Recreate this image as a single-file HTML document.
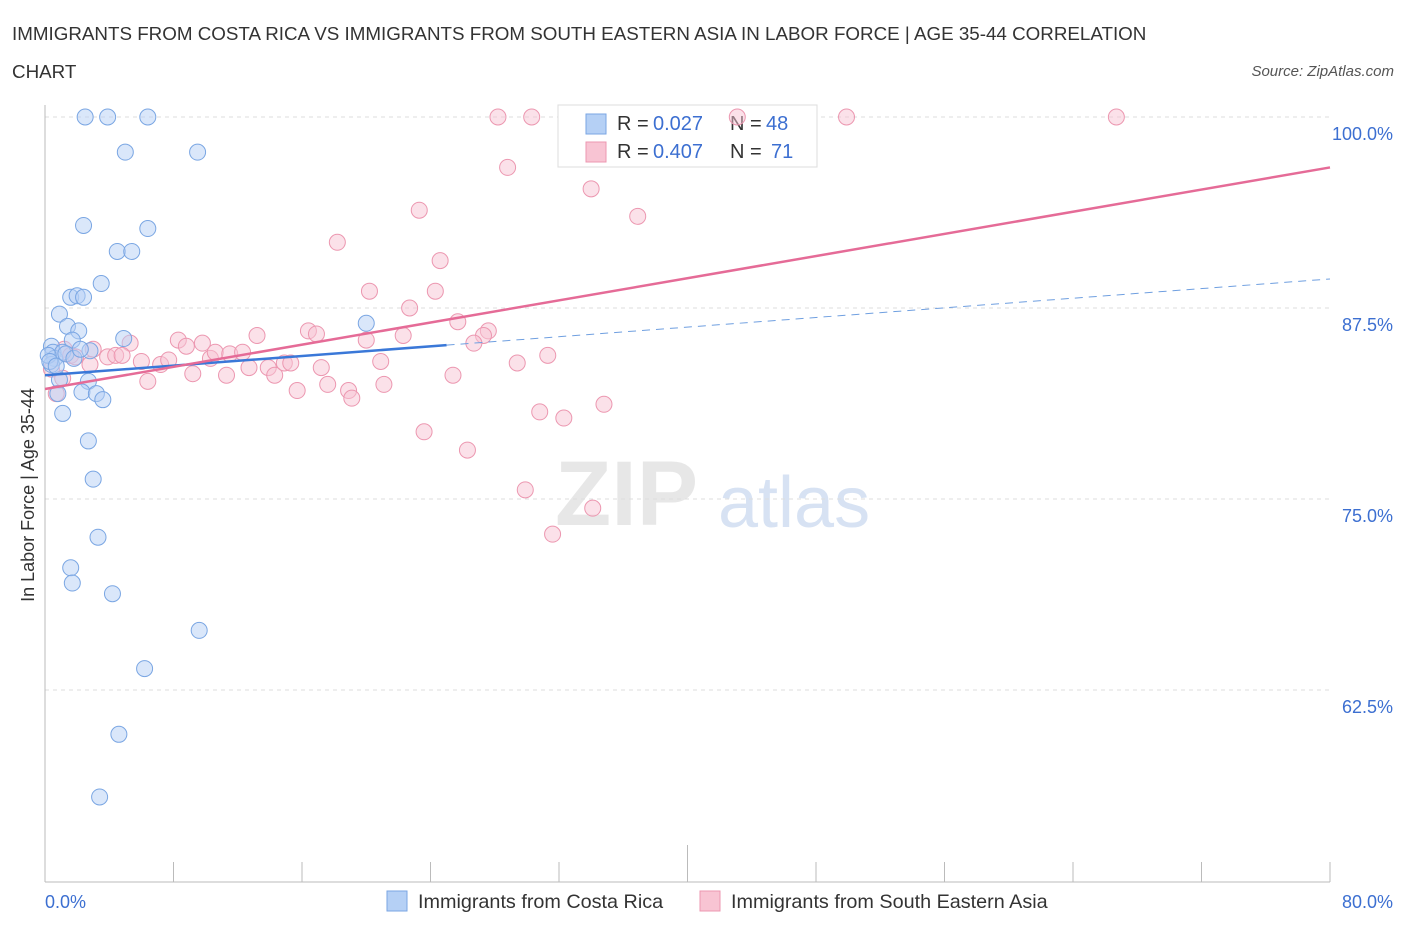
<!DOCTYPE html>
<html><head><meta charset="utf-8"><style>
body{margin:0;background:#fff;font-family:"Liberation Sans",sans-serif;}
svg text{font-family:"Liberation Sans",sans-serif;}
</style></head><body>
<svg id="chart" width="1406" height="930" xmlns="http://www.w3.org/2000/svg">
<text x="12" y="40" font-size="18.8" fill="#333">IMMIGRANTS FROM COSTA RICA VS IMMIGRANTS FROM SOUTH EASTERN ASIA IN LABOR FORCE | AGE 35-44 CORRELATION</text>
<text x="12" y="78" font-size="18.8" fill="#333">CHART</text>
<text x="1394" y="76" font-size="15" fill="#555" font-style="italic" text-anchor="end">Source: ZipAtlas.com</text>
<g>
<text x="555" y="525" font-size="92" fill="#ddd" font-family="Liberation Serif,serif" font-weight="bold" opacity="0.7">ZIP</text>
<text x="718" y="527" font-size="72" fill="#c7d7ee" opacity="0.7">atlas</text>
</g>
<g id="grid"></g>
<g id="axes"></g>
<g id="legend-top">
<rect x="558" y="105" width="259" height="62" fill="#fff" stroke="#ddd"/>
<rect x="586" y="114" width="20" height="20" fill="#b5d0f5" stroke="#7aa6e3"/>
<text x="617" y="130" font-size="20" fill="#333">R = </text><text x="653" y="130" font-size="20" fill="#3c6fd1">0.027</text>
<text x="730" y="130" font-size="20" fill="#333">N = </text><text x="766" y="130" font-size="20" fill="#3c6fd1">48</text>
<rect x="586" y="142" width="20" height="20" fill="#f8c4d3" stroke="#ec97b0"/>
<text x="617" y="158" font-size="20" fill="#333">R = </text><text x="653" y="158" font-size="20" fill="#3c6fd1">0.407</text>
<text x="730" y="158" font-size="20" fill="#333">N = </text><text x="771" y="158" font-size="20" fill="#3c6fd1">71</text>
</g>
<g id="marks"></g>
<g>
<rect x="387" y="891" width="20" height="20" fill="#b5d0f5" stroke="#7aa6e3"/>
<text x="418" y="908" font-size="19.8" fill="#333">Immigrants from Costa Rica</text>
<rect x="700" y="891" width="20" height="20" fill="#f8c4d3" stroke="#ec97b0"/>
<text x="731" y="908" font-size="19.8" fill="#333">Immigrants from South Eastern Asia</text>
</g>
<text transform="translate(34,495) rotate(-90)" font-size="18" fill="#333" text-anchor="middle">In Labor Force | Age 35-44</text>
</svg>
<script>
const yTicks=[100,87.5,75,62.5];
const yTickLabels=["100.0%","87.5%","75.0%","62.5%"];
const xTickLabels=["0.0%","80.0%"];
const blueX=[2.5,3.9,6.4,5.0,9.5,2.4,6.4,4.5,5.4,3.5,1.6,2.0,2.4,0.9,1.4,2.1,4.9,1.7,0.4,0.5,0.6,0.4,1.1,2.8,20.0,0.9,2.7,2.3,3.2,3.6,0.8,1.1,2.7,3.0,3.3,1.6,1.7,4.2,9.6,6.2,4.6,3.4,0.2,0.3,0.7,1.3,1.8,2.2];
const blueY=[100,100,100,97.7,97.7,92.9,92.7,91.2,91.2,89.1,88.2,88.3,88.2,87.1,86.3,86.0,85.5,85.4,85.0,84.6,84.2,83.8,84.6,84.7,86.5,82.8,82.7,82.0,81.9,81.5,81.9,80.6,78.8,76.3,72.5,70.5,69.5,68.8,66.4,63.9,59.6,55.5,84.4,84.0,83.7,84.5,84.2,84.8];
const pinkX=[28.2,30.3,43.1,49.9,66.7,28.8,34.0,23.3,36.9,18.2,24.6,20.2,24.3,22.7,25.7,27.6,27.3,16.4,16.9,13.2,20.0,22.3,26.7,8.3,9.8,8.8,5.3,3.0,1.2,1.6,3.9,4.4,4.8,6.0,7.2,7.7,10.3,10.6,11.5,12.3,12.7,13.9,14.3,14.9,15.3,17.2,20.9,29.4,31.3,9.2,11.3,6.4,1.1,17.6,18.9,19.1,21.1,15.7,25.4,30.8,32.3,34.8,23.6,26.3,29.9,34.1,31.6,0.7,1.9,0.4,2.8];
const pinkY=[100,100,100,100,100,96.7,95.3,93.9,93.5,91.8,90.6,88.6,88.6,87.5,86.6,86.0,85.7,86.0,85.8,85.7,85.4,85.7,85.2,85.4,85.2,85.0,85.2,84.8,84.8,84.4,84.3,84.4,84.4,84.0,83.8,84.1,84.2,84.6,84.5,84.6,83.6,83.6,83.1,83.9,83.9,83.6,84.0,83.9,84.4,83.2,83.1,82.7,82.9,82.5,82.1,81.6,82.5,82.1,83.1,80.7,80.3,81.2,79.4,78.2,75.6,74.4,72.7,81.9,84.3,83.5,83.8];
const blueTrend=[83.1,89.4]; const blueSolidEnd=25;
const pinkTrend=[82.2,96.7];
const NS="http://www.w3.org/2000/svg";
const X=v=>45+v*(1285/80), Y=v=>117+(100-v)*(191/12.5);
function mk(t,a,p){const e=document.createElementNS(NS,t);for(const k in a)e.setAttribute(k,a[k]);p.appendChild(e);return e;}
const grid=document.getElementById('grid'),axes=document.getElementById('axes'),marks=document.getElementById('marks');
yTicks.forEach((t,i)=>{
 const l=mk('line',{x1:45,x2:1330,y1:Y(t),y2:Y(t),stroke:'#ddd','stroke-dasharray':'4,4'},grid);
 
 
 const tx=mk('text',{x:1393,y:Y(t)+23,'font-size':18,fill:'#3c6fd1','text-anchor':'end'},axes);
 tx.textContent=yTickLabels[i];
 
 
});
const ax=mk('line',{x1:45,x2:45,y1:105,y2:882,stroke:'#bbb'},axes);


const bx=mk('line',{x1:45,x2:1330,y1:882,y2:882,stroke:'#bbb'},axes);


for(let i=0;i<=10;i++){const t=mk('line',{x1:X(i*8),x2:X(i*8),y1:i==5?845:862,y2:882,stroke:'#bbb'},axes);
 
 }
[[0,'start',45],[80,'end',1393]].forEach((d,i)=>{const t=mk('text',{x:d[2],y:908,'font-size':18,fill:'#3c6fd1','text-anchor':d[1]},axes);t.textContent=xTickLabels[i];
 
 });
pinkX.forEach((x,i)=>{const c=mk('circle',{cx:X(x),cy:Y(pinkY[i]),r:8,fill:'#f8c4d3','fill-opacity':0.5,stroke:'#ec97b0','stroke-width':1},marks);
 
 });
blueX.forEach((x,i)=>{const c=mk('circle',{cx:X(x),cy:Y(blueY[i]),r:8,fill:'#b5d0f5','fill-opacity':0.5,stroke:'#7aa6e3','stroke-width':1},marks);
 
 });
const by=v=>blueTrend[0]+(blueTrend[1]-blueTrend[0])*v/80;
const l1=mk('line',{x1:X(0),y1:Y(by(0)),x2:X(blueSolidEnd),y2:Y(by(blueSolidEnd)),stroke:'#3a78d8','stroke-width':2.5},marks);


const l2=mk('line',{x1:X(blueSolidEnd),y1:Y(by(blueSolidEnd)),x2:X(80),y2:Y(by(80)),stroke:'#6f9fe0','stroke-width':1,'stroke-dasharray':'8,6'},marks);


const l3=mk('line',{x1:X(0),y1:Y(pinkTrend[0]),x2:X(80),y2:Y(pinkTrend[1]),stroke:'#e56b97','stroke-width':2.5},marks);


</script>
</body></html>
